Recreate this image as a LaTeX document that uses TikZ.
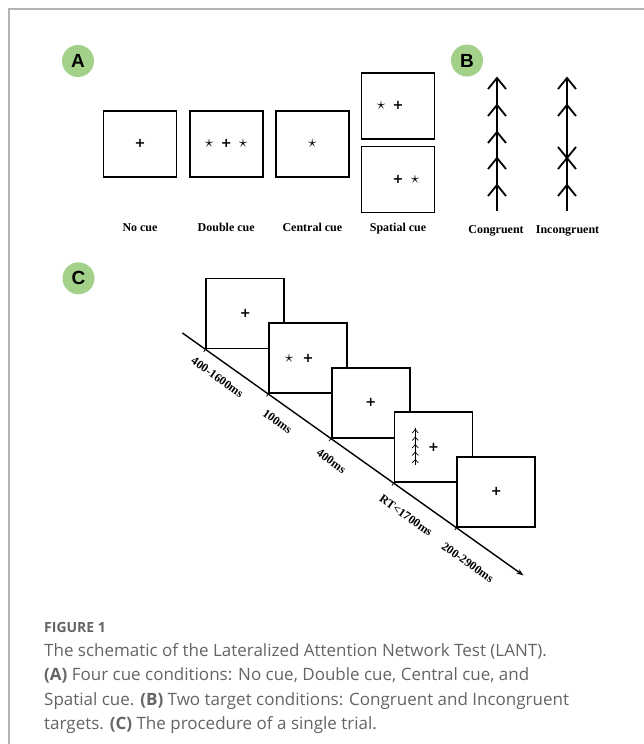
\documentclass[tikz,border=0pt]{standalone}
\usepackage{fontspec}
\setmainfont{Liberation Serif}
\newfontfamily\capfont{Open Sans}
\newfontfamily\tagfont{Liberation Sans}
\newfontfamily\fixfont{DejaVu Sans}
\usetikzlibrary{positioning}
\usetikzlibrary{calc}
\usetikzlibrary{arrows.meta}

\definecolor{tagGreen}{RGB}{163,209,137}
\definecolor{capGray}{RGB}{100,100,100}
\definecolor{frameGray}{RGB}{178,178,178}

\tikzset{
    cuebox/.style={draw,line width=1.7pt,fill=white,minimum width=73pt,
        minimum height=66pt,inner sep=0pt},
    trialbox/.style={cuebox,minimum width=78pt,minimum height=70pt},
    fix/.style={font=\fixfont\bfseries\fontsize{13}{13}\selectfont,inner sep=0pt},
    cuestar/.style={font=\fontsize{16}{16}\selectfont,inner sep=0pt},
    cond/.style={font=\bfseries\fontsize{12}{14}\selectfont,inner sep=0pt},
    tag/.style={circle,fill=tagGreen,minimum size=32pt,inner sep=0pt,
        font=\tagfont\bfseries\fontsize{19}{19}\selectfont},
    flank/.style={line width=1.8pt},
    timelbl/.style={font=\bfseries\fontsize{12}{14}\selectfont,rotate=-35.4,
        inner sep=0pt},
    capline/.style={font=\capfont\fontsize{17}{20}\selectfont,text=capGray,
        inner sep=0pt,anchor=base west},
}

\begin{document}
\begin{tikzpicture}[x=1pt,y=-1pt]
    \useasboundingbox (0,0) rectangle (644,744);
    % Frame
    \draw [frameGray,line width=1.5pt] (644,9) -- (9,9) -- (9,744);

    % Panel A: cue conditions
    \node [tag] (tagA) at (78,61) {A};
    \node [cuebox] (nocue) at (140,143.8) {};
    \node [cuebox,right=11.5pt of nocue] (double) {};
    \node [cuebox,right=11.5pt of double] (central) {};
    \node [cuebox] (sptop) at (398,105.7) {};
    \node [cuebox,below=6pt of sptop] (spbot) {};
    \node [fix] (nocue-fix) at (nocue) {+};
    \node [fix] (double-fix) at (double) {+};
    \node [cuestar] (double-l) at ($(double)+(-17,0)$) {$\star$};
    \node [cuestar] (double-r) at ($(double)+(17,0)$) {$\star$};
    \node [cuestar] (central-cue) at (central) {$\star$};
    \node [fix] (sptop-fix) at (sptop) {+};
    \node [cuestar] (sptop-cue) at ($(sptop)+(-17,0)$) {$\star$};
    \node [fix] (spbot-fix) at (spbot) {+};
    \node [cuestar] (spbot-cue) at ($(spbot)+(17,0)$) {$\star$};
    \coordinate (lblrow) at (0,231);
    \node [cond,anchor=base] (nocue-lbl) at (nocue |- lblrow) {No cue};
    \node [cond,anchor=base] (double-lbl) at (double |- lblrow) {Double cue};
    \node [cond,anchor=base] (central-lbl) at (central |- lblrow) {Central cue};
    \node [cond,anchor=base] (spatial-lbl) at (sptop |- lblrow) {Spatial cue};

    % Panel B: target conditions
    \node [tag] (tagB) at (467,60.5) {B};
    \draw [flank] (497,78) -- (497,211);
    \foreach \y in {78,105,132,158,185}
        \draw [flank] (488,\y+11) -- (497,\y) -- (506,\y+11);
    \draw [flank] (567,78) -- (567,211);
    \foreach \y in {78,105,158,185}
        \draw [flank] (558,\y+11) -- (567,\y) -- (576,\y+11);
    \draw [flank] (558,147) -- (567,158) -- (576,147);
    \node [cond,anchor=base] (cong-lbl) at (496,233) {Congruent};
    \node [cond,anchor=base] (incong-lbl) at (567.5,233) {Incongruent};

    % Panel C: a single trial
    \node [tag] (tagC) at (78.5,278.3) {C};
    \foreach \i in {1,...,5}
        \node [trialbox] (t\i) at (245.3+62.75*\i-62.75,313.5+44.6*\i-44.6) {};
    \foreach \i in {1,...,5}
        \node [fix] (t\i-fix) at (t\i) {+};
    \node [cuestar] (t2-cue) at ($(t2)+(-19,0)$) {$\star$};
    \begin{scope}[shift={(t4.center)},line width=0.7pt]
        \draw (-18.3,-19.5) -- (-18.3,18);
        \foreach \y in {-17.8,-10.3,-2.8,4.7,12.2}
            \draw (-21.3,\y+3.5) -- (-18.3,\y) -- (-15.3,\y+3.5);
    \end{scope}
    \coordinate (tl-start) at ($(t1.south west)!-0.092!(t5.south west)$);
    \coordinate (tl-end) at ($(t1.south west)!1.267!(t5.south west)$);
    \draw [line width=1.4pt,-{Stealth[length=7pt,width=5pt]}] (tl-start) -- (tl-end);
    \foreach \i in {1,...,5}
        \draw [line width=0.8pt] (t\i.south west) -- ++(-1.7,2.4);
    \node [timelbl] (t1-lbl) at ($(t1.south west)+(12,28)$) {400-1600ms};
    \node [timelbl] (t2-lbl) at ($(t2.south west)+(9.3,27.4)$) {100ms};
    \node [timelbl] (t3-lbl) at ($(t3.south west)+(0.4,22.7)$) {400ms};
    \node [timelbl] (t4-lbl) at ($(t4.south west)+(12.4,32.3)$) {RT<1700ms};
    \node [timelbl] (t5-lbl) at ($(t5.south west)+(11.3,34.7)$) {200-2900ms};

    % Caption
    \node [capline,font=\capfont\bfseries\fontsize{14}{14}\selectfont]
        (fig-no) at (44,632) {FIGURE 1};
    \node [capline] (cap1) at (44,656)
        {The schematic of the Lateralized Attention Network Test (LANT).};
    \node [capline] (cap2) at (44,680.5)
        {\textbf{(A)} Four cue conditions: No cue, Double cue, Central cue, and};
    \node [capline] (cap3) at (44,705)
        {Spatial cue. \textbf{(B)} Two target conditions: Congruent and Incongruent};
    \node [capline] (cap4) at (44,729.5)
        {targets. \textbf{(C)} The procedure of a single trial.};
\end{tikzpicture}
\end{document}
